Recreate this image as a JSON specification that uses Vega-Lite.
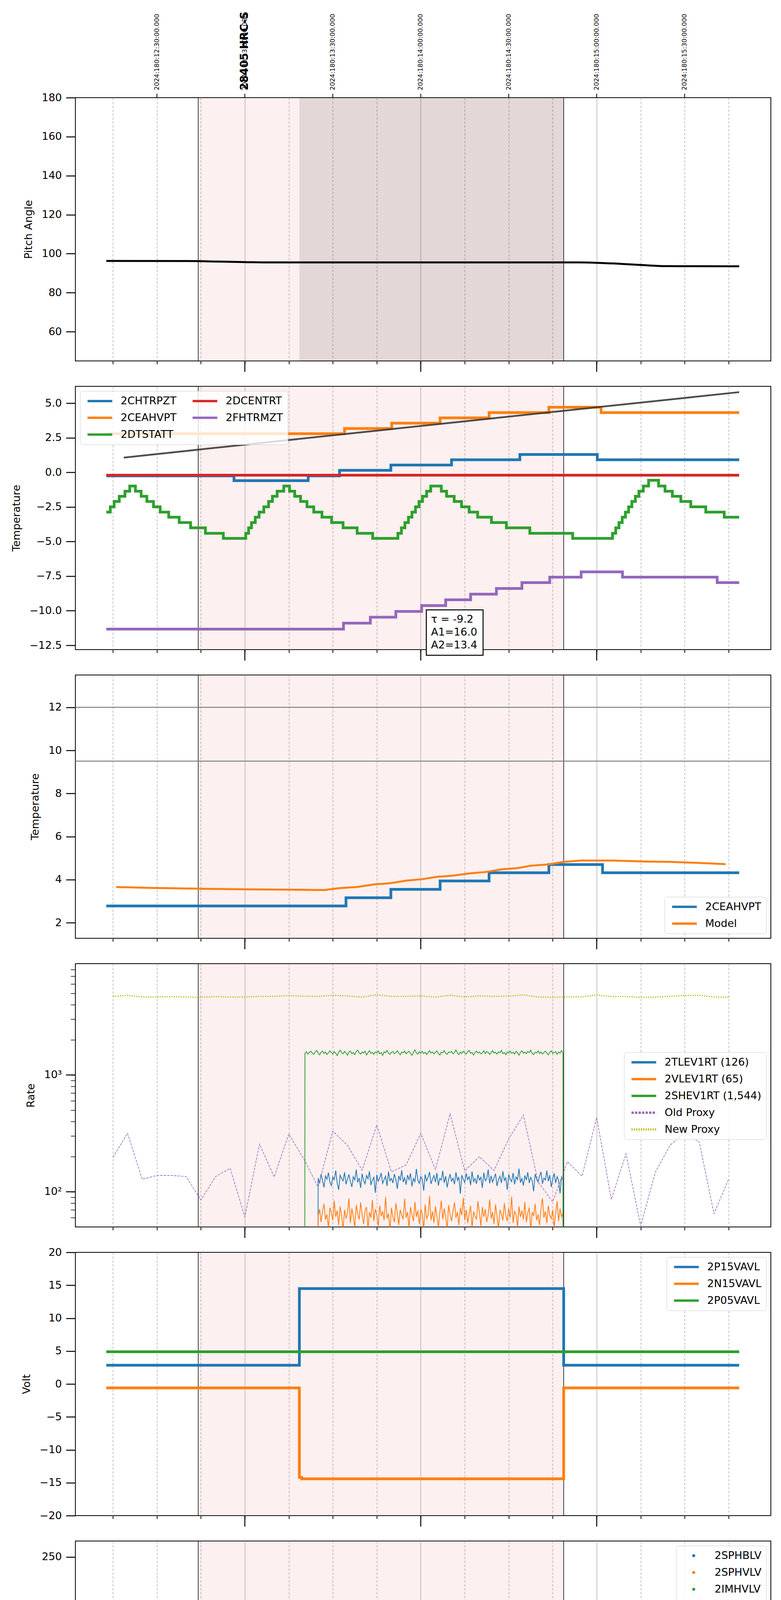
{
"$schema":"https://vega.github.io/schema/vega-lite/v6.json",
"padding":{"left":27,"top":28,"right":5,"bottom":5},
"background":"#ffffff",
"bounds":"flush",
"spacing":65,
"config":{
 "font":"DejaVu Sans",
 "view":{"stroke":"#000000","strokeWidth":2},
 "axis":{"labelColor":"#000000","titleColor":"#000000","tickColor":"#000000","labelFlush":false,"labelOverlap":false,"domain":false,"titleFontWeight":"normal"},
 "axisY":{"tickSize":24,"tickWidth":2.5,"labelPadding":11,"titlePadding":19,"labelFontSize":27,"titleFontSize":27,"grid":false},
 "legend":{"labelFontSize":27,"labelColor":"#000000","labelLimit":500,"fillColor":"rgba(255,255,255,0.8)","strokeColor":"#cccccc","cornerRadius":6,"padding":12,"rowPadding":15,"symbolType":"M-1,0H9","symbolSize":160,"symbolStrokeWidth":6,"labelOffset":65,"offset":12}
},
"datasets":{
 "obs":[{"t0":44.1,"t1":168.75}],
 "obsdark":[{"t0":78.6,"t1":168.75}],
 "edges":[{"t":44.1},{"t":168.75}],
 "hours":[{"t":60},{"t":120},{"t":180}],
 "toplabels":[{"t":30,"label":"2024:180:12:30:00.000"},{"t":60,"label":"2024:180:13:00:00.000"},{"t":90,"label":"2024:180:13:30:00.000"},{"t":120,"label":"2024:180:14:00:00.000"},{"t":150,"label":"2024:180:14:30:00.000"},{"t":180,"label":"2024:180:15:00:00.000"},{"t":210,"label":"2024:180:15:30:00.000"}],
 "obsid":[{"t":60,"label":"28405 HRC-S"}],
 "hourlabels":[{"t":60,"label":"09h"},{"t":120,"label":"10h"},{"t":180,"label":"11h"}],
 "xtitle":[{"t":120.8,"label":"2024-06-28 (180)"}],
 "logmajor":[{"v":100},{"v":1000}],
 "pitch":[{"t":12.75,"v":96.3},{"t":41.3,"v":96.25},{"t":50,"v":96.0},{"t":60,"v":95.7},{"t":68.5,"v":95.5},{"t":174,"v":95.5},{"t":185,"v":95.0},{"t":195,"v":94.2},{"t":204.5,"v":93.6},{"t":228.6,"v":93.5}],
 "p2":[
  {"s":"2CHTRPZT","t":12.75,"v":-0.25},{"s":"2CHTRPZT","t":56.3,"v":-0.6},{"s":"2CHTRPZT","t":81.6,"v":-0.25},{"s":"2CHTRPZT","t":92.3,"v":0.15},{"s":"2CHTRPZT","t":109.8,"v":0.53},{"s":"2CHTRPZT","t":130.5,"v":0.91},{"s":"2CHTRPZT","t":153.8,"v":1.29},{"s":"2CHTRPZT","t":180.2,"v":0.91},{"s":"2CHTRPZT","t":228.6,"v":0.91},
  {"s":"2CEAHVPT","t":12.75,"v":2.8},{"s":"2CEAHVPT","t":94.0,"v":3.17},{"s":"2CEAHVPT","t":110.1,"v":3.56},{"s":"2CEAHVPT","t":126.6,"v":3.94},{"s":"2CEAHVPT","t":143.3,"v":4.32},{"s":"2CEAHVPT","t":163.7,"v":4.71},{"s":"2CEAHVPT","t":181.5,"v":4.32},{"s":"2CEAHVPT","t":228.6,"v":4.32},
  {"s":"2DTSTATT","t":12.75,"v":-2.87},{"s":"2DTSTATT","t":14.11,"v":-2.49},{"s":"2DTSTATT","t":15.42,"v":-2.1},{"s":"2DTSTATT","t":17.17,"v":-1.73},{"s":"2DTSTATT","t":19.11,"v":-1.36},{"s":"2DTSTATT","t":20.74,"v":-0.99},{"s":"2DTSTATT","t":22.68,"v":-1.36},{"s":"2DTSTATT","t":24.63,"v":-1.73},{"s":"2DTSTATT","t":26.58,"v":-2.1},{"s":"2DTSTATT","t":28.85,"v":-2.49},{"s":"2DTSTATT","t":31.12,"v":-2.87},{"s":"2DTSTATT","t":34.04,"v":-3.24},{"s":"2DTSTATT","t":37.61,"v":-3.63},{"s":"2DTSTATT","t":41.5,"v":-4.01},{"s":"2DTSTATT","t":46.56,"v":-4.4},{"s":"2DTSTATT","t":52.66,"v":-4.77},{"s":"2DTSTATT","t":60.31,"v":-4.4},{"s":"2DTSTATT","t":61.29,"v":-4.01},{"s":"2DTSTATT","t":62.27,"v":-3.63},{"s":"2DTSTATT","t":63.56,"v":-3.24},{"s":"2DTSTATT","t":64.86,"v":-2.87},{"s":"2DTSTATT","t":66.48,"v":-2.49},{"s":"2DTSTATT","t":68.1,"v":-2.1},{"s":"2DTSTATT","t":69.4,"v":-1.73},{"s":"2DTSTATT","t":71.01,"v":-1.36},{"s":"2DTSTATT","t":73.29,"v":-0.99},{"s":"2DTSTATT","t":75.24,"v":-1.36},{"s":"2DTSTATT","t":77.0,"v":-1.73},{"s":"2DTSTATT","t":79.0,"v":-2.1},{"s":"2DTSTATT","t":81.2,"v":-2.49},{"s":"2DTSTATT","t":83.5,"v":-2.87},{"s":"2DTSTATT","t":86.3,"v":-3.24},{"s":"2DTSTATT","t":89.6,"v":-3.63},{"s":"2DTSTATT","t":93.5,"v":-4.01},{"s":"2DTSTATT","t":98.3,"v":-4.4},{"s":"2DTSTATT","t":103.6,"v":-4.77},{"s":"2DTSTATT","t":112.2,"v":-4.4},{"s":"2DTSTATT","t":113.4,"v":-4.01},{"s":"2DTSTATT","t":114.6,"v":-3.63},{"s":"2DTSTATT","t":115.8,"v":-3.24},{"s":"2DTSTATT","t":117.0,"v":-2.87},{"s":"2DTSTATT","t":118.2,"v":-2.49},{"s":"2DTSTATT","t":119.4,"v":-2.1},{"s":"2DTSTATT","t":120.6,"v":-1.73},{"s":"2DTSTATT","t":122.0,"v":-1.36},{"s":"2DTSTATT","t":123.4,"v":-0.99},{"s":"2DTSTATT","t":127.0,"v":-1.36},{"s":"2DTSTATT","t":128.8,"v":-1.73},{"s":"2DTSTATT","t":131.4,"v":-2.1},{"s":"2DTSTATT","t":133.9,"v":-2.49},{"s":"2DTSTATT","t":136.5,"v":-2.87},{"s":"2DTSTATT","t":139.4,"v":-3.24},{"s":"2DTSTATT","t":144.1,"v":-3.63},{"s":"2DTSTATT","t":149.2,"v":-4.01},{"s":"2DTSTATT","t":157.2,"v":-4.4},{"s":"2DTSTATT","t":171.8,"v":-4.77},{"s":"2DTSTATT","t":185.4,"v":-4.4},{"s":"2DTSTATT","t":186.5,"v":-4.01},{"s":"2DTSTATT","t":187.6,"v":-3.63},{"s":"2DTSTATT","t":188.7,"v":-3.24},{"s":"2DTSTATT","t":189.8,"v":-2.87},{"s":"2DTSTATT","t":190.9,"v":-2.49},{"s":"2DTSTATT","t":192.0,"v":-2.1},{"s":"2DTSTATT","t":193.2,"v":-1.73},{"s":"2DTSTATT","t":194.4,"v":-1.36},{"s":"2DTSTATT","t":195.9,"v":-0.99},{"s":"2DTSTATT","t":197.7,"v":-0.57},{"s":"2DTSTATT","t":201.1,"v":-0.99},{"s":"2DTSTATT","t":203.3,"v":-1.36},{"s":"2DTSTATT","t":205.8,"v":-1.73},{"s":"2DTSTATT","t":208.7,"v":-2.1},{"s":"2DTSTATT","t":212.1,"v":-2.49},{"s":"2DTSTATT","t":217.2,"v":-2.87},{"s":"2DTSTATT","t":223.5,"v":-3.24},{"s":"2DTSTATT","t":228.6,"v":-3.24},
  {"s":"2DCENTRT","t":12.75,"v":-0.2},{"s":"2DCENTRT","t":228.6,"v":-0.2},
  {"s":"2FHTRMZT","t":12.75,"v":-11.33},{"s":"2FHTRMZT","t":93.65,"v":-10.9},{"s":"2FHTRMZT","t":102.8,"v":-10.47},{"s":"2FHTRMZT","t":111.5,"v":-10.05},{"s":"2FHTRMZT","t":120.3,"v":-9.63},{"s":"2FHTRMZT","t":128.5,"v":-9.21},{"s":"2FHTRMZT","t":137.0,"v":-8.8},{"s":"2FHTRMZT","t":145.8,"v":-8.39},{"s":"2FHTRMZT","t":154.5,"v":-7.97},{"s":"2FHTRMZT","t":164.0,"v":-7.57},{"s":"2FHTRMZT","t":174.7,"v":-7.19},{"s":"2FHTRMZT","t":188.8,"v":-7.57},{"s":"2FHTRMZT","t":221.1,"v":-7.97},{"s":"2FHTRMZT","t":228.6,"v":-7.97}
 ],
 "p2fit":[{"t":18.7,"v":1.07},{"t":228.6,"v":5.8}],
 "annot":[{"t0":121.9,"t1":141.25,"v0":-9.94,"v1":-13.22,"tx":123.5,"vy":-10.87,"label":"τ = -9.2\nA1=16.0\nA2=13.4"}],
 "p3steps":[{"s":"2CEAHVPT","t":12.75,"v":2.78},{"s":"2CEAHVPT","t":94.5,"v":3.16},{"s":"2CEAHVPT","t":109.8,"v":3.55},{"s":"2CEAHVPT","t":126.6,"v":3.94},{"s":"2CEAHVPT","t":143.3,"v":4.32},{"s":"2CEAHVPT","t":163.7,"v":4.7},{"s":"2CEAHVPT","t":182.0,"v":4.32},{"s":"2CEAHVPT","t":228.6,"v":4.32}],
 "p3model":[{"s":"Model","t":16.1,"v":3.66},{"s":"Model","t":27.7,"v":3.62},{"s":"Model","t":44.7,"v":3.58},{"s":"Model","t":61.7,"v":3.55},{"s":"Model","t":87.2,"v":3.52},{"s":"Model","t":92.3,"v":3.61},{"s":"Model","t":98.2,"v":3.66},{"s":"Model","t":104.2,"v":3.78},{"s":"Model","t":109.3,"v":3.83},{"s":"Model","t":115.2,"v":3.96},{"s":"Model","t":120.3,"v":4.02},{"s":"Model","t":125.4,"v":4.13},{"s":"Model","t":130.5,"v":4.18},{"s":"Model","t":136.5,"v":4.29},{"s":"Model","t":142.4,"v":4.36},{"s":"Model","t":147.5,"v":4.48},{"s":"Model","t":152.6,"v":4.53},{"s":"Model","t":157.7,"v":4.65},{"s":"Model","t":163.7,"v":4.71},{"s":"Model","t":168.8,"v":4.83},{"s":"Model","t":174.7,"v":4.89},{"s":"Model","t":185.8,"v":4.89},{"s":"Model","t":197.7,"v":4.84},{"s":"Model","t":204.5,"v":4.83},{"s":"Model","t":214.7,"v":4.78},{"s":"Model","t":224.0,"v":4.72}],
 "hlines":[{"v":12},{"v":9.5}],
 "rates":[
  {"t":80.4,"sh":1},{"t":80.5,"sh":1532},{"t":81,"sh":1580},{"t":81.5,"sh":1510},{"t":82,"sh":1565},{"t":82.5,"sh":1598},{"t":83,"sh":1541},{"t":83.5,"sh":1502},{"t":84,"sh":1575},{"t":84.5,"sh":1620},{"t":84.9,"sh":1571,"tl":1,"vl":1},
  {"t":85,"sh":1534,"tl":131,"vl":62},{"t":85.5,"sh":1488,"tl":118,"vl":71},{"t":86,"sh":1559,"tl":142,"vl":55},{"t":86.5,"sh":1603,"tl":125,"vl":68},{"t":87,"sh":1527,"tl":109,"vl":79},{"t":87.5,"sh":1571,"tl":137,"vl":58},{"t":88,"sh":1496,"tl":128,"vl":64},{"t":88.5,"sh":1545,"tl":146,"vl":49},{"t":89,"sh":1612,"tl":121,"vl":73},{"t":89.5,"sh":1553,"tl":113,"vl":66},
  {"t":90,"sh":1509,"tl":134,"vl":57},{"t":90.5,"sh":1584,"tl":127,"vl":84},{"t":91,"sh":1537,"tl":152,"vl":61},{"t":91.5,"sh":1466,"tl":119,"vl":69},{"t":92,"sh":1561,"tl":104,"vl":52},{"t":92.5,"sh":1629,"tl":139,"vl":75},{"t":93,"sh":1548,"tl":130,"vl":63},{"t":93.5,"sh":1519,"tl":124,"vl":47},{"t":94,"sh":1593,"tl":147,"vl":70},{"t":94.5,"sh":1540,"tl":116,"vl":59},
  {"t":95,"sh":1477,"tl":128,"vl":66},{"t":95.5,"sh":1568,"tl":141,"vl":88},{"t":96,"sh":1604,"tl":122,"vl":54},{"t":96.5,"sh":1523,"tl":110,"vl":72},{"t":97,"sh":1556,"tl":135,"vl":61},{"t":97.5,"sh":1491,"tl":126,"vl":50},{"t":98,"sh":1587,"tl":155,"vl":77},{"t":98.5,"sh":1632,"tl":120,"vl":65},{"t":99,"sh":1545,"tl":131,"vl":58},{"t":99.5,"sh":1508,"tl":108,"vl":81},
  {"t":100,"sh":1571,"tl":143,"vl":63},{"t":100.5,"sh":1539,"tl":125,"vl":53},{"t":101,"sh":1598,"tl":117,"vl":69},{"t":101.5,"sh":1482,"tl":138,"vl":74},{"t":102,"sh":1553,"tl":129,"vl":48},{"t":102.5,"sh":1617,"tl":150,"vl":67},{"t":103,"sh":1529,"tl":114,"vl":60},{"t":103.5,"sh":1564,"tl":126,"vl":85},{"t":104,"sh":1501,"tl":133,"vl":56},{"t":104.5,"sh":1575,"tl":98,"vl":71},
  {"t":105,"sh":1543,"tl":140,"vl":64},{"t":105.5,"sh":1609,"tl":123,"vl":51},{"t":106,"sh":1516,"tl":131,"vl":76},{"t":106.5,"sh":1558,"tl":145,"vl":62},{"t":107,"sh":1472,"tl":118,"vl":68},{"t":107.5,"sh":1581,"tl":127,"vl":57},{"t":108,"sh":1547,"tl":136,"vl":90},{"t":108.5,"sh":1625,"tl":112,"vl":59},{"t":109,"sh":1533,"tl":149,"vl":65},{"t":109.5,"sh":1499,"tl":124,"vl":46},
  {"t":110,"sh":1566,"tl":130,"vl":73},{"t":110.5,"sh":1590,"tl":119,"vl":61},{"t":111,"sh":1521,"tl":142,"vl":55},{"t":111.5,"sh":1554,"tl":128,"vl":80},{"t":112,"sh":1612,"tl":106,"vl":66},{"t":112.5,"sh":1538,"tl":137,"vl":52},{"t":113,"sh":1486,"tl":125,"vl":70},{"t":113.5,"sh":1573,"tl":153,"vl":63},{"t":114,"sh":1549,"tl":121,"vl":58},{"t":114.5,"sh":1603,"tl":132,"vl":87},
  {"t":115,"sh":1517,"tl":115,"vl":60},{"t":115.5,"sh":1562,"tl":139,"vl":67},{"t":116,"sh":1596,"tl":127,"vl":49},{"t":116.5,"sh":1530,"tl":144,"vl":74},{"t":117,"sh":1475,"tl":111,"vl":64},{"t":117.5,"sh":1559,"tl":130,"vl":56},{"t":118,"sh":1641,"tl":122,"vl":82},{"t":118.5,"sh":1545,"tl":157,"vl":61},{"t":119,"sh":1508,"tl":126,"vl":69},{"t":119.5,"sh":1579,"tl":118,"vl":53},
  {"t":120,"sh":1536,"tl":135,"vl":71},{"t":120.5,"sh":1593,"tl":129,"vl":65},{"t":121,"sh":1524,"tl":102,"vl":47},{"t":121.5,"sh":1567,"tl":141,"vl":78},{"t":122,"sh":1498,"tl":124,"vl":59},{"t":122.5,"sh":1552,"tl":133,"vl":63},{"t":123,"sh":1615,"tl":148,"vl":92},{"t":123.5,"sh":1540,"tl":117,"vl":57},{"t":124,"sh":1577,"tl":128,"vl":68},{"t":124.5,"sh":1513,"tl":138,"vl":54},
  {"t":125,"sh":1561,"tl":121,"vl":75},{"t":125.5,"sh":1605,"tl":145,"vl":62},{"t":126,"sh":1529,"tl":113,"vl":50},{"t":126.5,"sh":1483,"tl":130,"vl":66},{"t":127,"sh":1568,"tl":126,"vl":84},{"t":127.5,"sh":1546,"tl":151,"vl":58},{"t":128,"sh":1620,"tl":119,"vl":72},{"t":128.5,"sh":1535,"tl":136,"vl":61},{"t":129,"sh":1502,"tl":109,"vl":48},{"t":129.5,"sh":1574,"tl":127,"vl":77},
  {"t":130,"sh":1556,"tl":142,"vl":64},{"t":130.5,"sh":1590,"tl":123,"vl":56},{"t":131,"sh":1518,"tl":131,"vl":69},{"t":131.5,"sh":1551,"tl":116,"vl":81},{"t":132,"sh":1637,"tl":147,"vl":60},{"t":132.5,"sh":1542,"tl":125,"vl":67},{"t":133,"sh":1493,"tl":134,"vl":52},{"t":133.5,"sh":1570,"tl":96,"vl":73},{"t":134,"sh":1527,"tl":139,"vl":63},{"t":134.5,"sh":1599,"tl":128,"vl":89},
  {"t":135,"sh":1548,"tl":120,"vl":57},{"t":135.5,"sh":1511,"tl":144,"vl":70},{"t":136,"sh":1583,"tl":127,"vl":54},{"t":136.5,"sh":1622,"tl":135,"vl":65},{"t":137,"sh":1534,"tl":114,"vl":76},{"t":137.5,"sh":1560,"tl":149,"vl":49},{"t":138,"sh":1480,"tl":122,"vl":68},{"t":138.5,"sh":1557,"tl":130,"vl":62},{"t":139,"sh":1601,"tl":117,"vl":58},{"t":139.5,"sh":1539,"tl":140,"vl":83},
  {"t":140,"sh":1572,"tl":126,"vl":66},{"t":140.5,"sh":1515,"tl":133,"vl":51},{"t":141,"sh":1546,"tl":108,"vl":74},{"t":141.5,"sh":1609,"tl":146,"vl":61},{"t":142,"sh":1523,"tl":124,"vl":71},{"t":142.5,"sh":1588,"tl":129,"vl":55},{"t":143,"sh":1563,"tl":155,"vl":64},{"t":143.5,"sh":1497,"tl":118,"vl":86},{"t":144,"sh":1550,"tl":137,"vl":59},{"t":144.5,"sh":1618,"tl":121,"vl":67},
  {"t":145,"sh":1537,"tl":131,"vl":53},{"t":145.5,"sh":1569,"tl":143,"vl":78},{"t":146,"sh":1506,"tl":112,"vl":62},{"t":146.5,"sh":1581,"tl":127,"vl":48},{"t":147,"sh":1545,"tl":136,"vl":70},{"t":147.5,"sh":1628,"tl":119,"vl":65},{"t":148,"sh":1520,"tl":150,"vl":57},{"t":148.5,"sh":1559,"tl":125,"vl":80},{"t":149,"sh":1490,"tl":132,"vl":63},{"t":149.5,"sh":1576,"tl":104,"vl":56},
  {"t":150,"sh":1541,"tl":141,"vl":72},{"t":150.5,"sh":1602,"tl":128,"vl":60},{"t":151,"sh":1532,"tl":122,"vl":91},{"t":151.5,"sh":1565,"tl":145,"vl":54},{"t":152,"sh":1509,"tl":116,"vl":68},{"t":152.5,"sh":1593,"tl":134,"vl":64},{"t":153,"sh":1547,"tl":127,"vl":50},{"t":153.5,"sh":1478,"tl":158,"vl":75},{"t":154,"sh":1561,"tl":120,"vl":61},{"t":154.5,"sh":1614,"tl":130,"vl":69},
  {"t":155,"sh":1536,"tl":113,"vl":58},{"t":155.5,"sh":1572,"tl":138,"vl":82},{"t":156,"sh":1519,"tl":126,"vl":55},{"t":156.5,"sh":1589,"tl":147,"vl":66},{"t":157,"sh":1554,"tl":119,"vl":73},{"t":157.5,"sh":1631,"tl":133,"vl":47},{"t":158,"sh":1527,"tl":124,"vl":67},{"t":158.5,"sh":1498,"tl":101,"vl":62},{"t":159,"sh":1566,"tl":142,"vl":79},{"t":159.5,"sh":1543,"tl":129,"vl":57},
  {"t":160,"sh":1607,"tl":121,"vl":64},{"t":160.5,"sh":1525,"tl":136,"vl":52},{"t":161,"sh":1575,"tl":148,"vl":71},{"t":161.5,"sh":1511,"tl":117,"vl":88},{"t":162,"sh":1558,"tl":131,"vl":60},{"t":162.5,"sh":1597,"tl":126,"vl":68},{"t":163,"sh":1540,"tl":152,"vl":54},{"t":163.5,"sh":1486,"tl":123,"vl":76},{"t":164,"sh":1563,"tl":139,"vl":63},{"t":164.5,"sh":1610,"tl":110,"vl":59},
  {"t":165,"sh":1529,"tl":128,"vl":70},{"t":165.5,"sh":1548,"tl":144,"vl":49},{"t":166,"sh":1585,"tl":119,"vl":65},{"t":166.5,"sh":1502,"tl":135,"vl":83},{"t":167,"sh":1571,"tl":125,"vl":56},{"t":167.5,"sh":1539,"tl":97,"vl":72},{"t":168,"sh":1620,"tl":133,"vl":61},{"t":168.5,"sh":1553,"tl":127,"vl":66},{"t":168.6,"sh":1,"tl":1,"vl":1}
 ],
 "proxy":[
  {"t":15,"old":197,"new":4704},{"t":20,"old":317,"new":4808},{"t":25,"old":128,"new":4653},{"t":30,"old":138,"new":4653},{"t":35,"old":138,"new":4688},{"t":40,"old":135,"new":4653},{"t":45,"old":85,"new":4619},{"t":50,"old":135,"new":4688},{"t":55,"old":159,"new":4653},{"t":60,"old":61,"new":4653},
  {"t":65,"old":256,"new":4704},{"t":70,"old":134,"new":4704},{"t":75,"old":313,"new":4790},{"t":80,"old":193,"new":4721},{"t":85,"old":110,"new":4704},{"t":90,"old":331,"new":4808},{"t":95,"old":250,"new":4756},{"t":100,"old":153,"new":4636},{"t":105,"old":373,"new":4862},{"t":110,"old":148,"new":4704},
  {"t":115,"old":170,"new":4704},{"t":120,"old":317,"new":4756},{"t":125,"old":155,"new":4636},{"t":130,"old":466,"new":4826},{"t":135,"old":151,"new":4653},{"t":140,"old":200,"new":4756},{"t":145,"old":152,"new":4704},{"t":150,"old":284,"new":4739},{"t":155,"old":454,"new":4844},{"t":160,"old":122,"new":4653},
  {"t":165,"old":82,"new":4619},{"t":170,"old":181,"new":4670},{"t":175,"old":136,"new":4653},{"t":180,"old":432,"new":4844},{"t":185,"old":86,"new":4688},{"t":190,"old":212,"new":4704},{"t":195,"old":51,"new":4619},{"t":200,"old":147,"new":4636},{"t":205,"old":250,"new":4721},{"t":210,"old":323,"new":4790},
  {"t":215,"old":266,"new":4808},{"t":220,"old":65,"new":4653},{"t":225,"old":128,"new":4636}
 ],
 "p5":[
  {"s":"2P15VAVL","t":12.75,"v":2.85},{"s":"2P15VAVL","t":78.6,"v":14.5},{"s":"2P15VAVL","t":168.75,"v":2.85},{"s":"2P15VAVL","t":228.6,"v":2.85},
  {"s":"2N15VAVL","t":12.75,"v":-0.6},{"s":"2N15VAVL","t":78.6,"v":-14.2},{"s":"2N15VAVL","t":79.4,"v":-14.4},{"s":"2N15VAVL","t":168.75,"v":-0.6},{"s":"2N15VAVL","t":228.6,"v":-0.6},
  {"s":"2P05VAVL","t":12.75,"v":4.9},{"s":"2P05VAVL","t":228.6,"v":4.9}
 ],
 "p6":[
  {"t":81.76,"2SPHBLV":117.7,"2SPHVLV":126.7},{"t":82.1,"2SPHBLV":102,"2SPHVLV":96.1},{"t":82.8,"2SPHBLV":97,"2SPHVLV":90.9},{"t":83.5,"2SPHBLV":92,"2SPHVLV":85.5},{"t":84.1,"2SPHBLV":86.8,"2SPHVLV":80.2},{"t":84.8,"2SPHBLV":82,"2SPHVLV":75},{"t":85.5,"2SPHBLV":77.4,"2SPHVLV":70.5},
  {"t":86,"2SPHBLV":77,"2SPHVLV":70.8},{"t":87,"2SPHBLV":77,"2SPHVLV":70.8},{"t":88,"2SPHBLV":77,"2SPHVLV":70.8},{"t":89,"2SPHBLV":77,"2SPHVLV":70.8},{"t":90,"2SPHBLV":77,"2SPHVLV":70.8},{"t":91,"2SPHBLV":77,"2SPHVLV":70.8},{"t":92,"2SPHBLV":77,"2SPHVLV":70.8},{"t":93,"2SPHBLV":77,"2SPHVLV":70.8},{"t":94,"2SPHBLV":77,"2SPHVLV":70.8},{"t":95,"2SPHBLV":77,"2SPHVLV":70.8},
  {"t":96,"2SPHBLV":77,"2SPHVLV":70.8},{"t":97,"2SPHBLV":77,"2SPHVLV":70.8},{"t":98,"2SPHBLV":77,"2SPHVLV":70.8},{"t":99,"2SPHBLV":77,"2SPHVLV":70.8},{"t":100,"2SPHBLV":77,"2SPHVLV":70.8},{"t":101,"2SPHBLV":77,"2SPHVLV":70.8},{"t":102,"2SPHBLV":77,"2SPHVLV":70.8},{"t":103,"2SPHBLV":77,"2SPHVLV":70.8},{"t":104,"2SPHBLV":77,"2SPHVLV":70.8},{"t":105,"2SPHBLV":77,"2SPHVLV":70.8},
  {"t":106,"2SPHBLV":77,"2SPHVLV":70.8},{"t":107,"2SPHBLV":77,"2SPHVLV":70.8},{"t":108,"2SPHBLV":77,"2SPHVLV":70.8},{"t":109,"2SPHBLV":77,"2SPHVLV":70.8},{"t":110,"2SPHBLV":77,"2SPHVLV":70.8},{"t":111,"2SPHBLV":77,"2SPHVLV":70.8},{"t":112,"2SPHBLV":77,"2SPHVLV":70.8},{"t":113,"2SPHBLV":77,"2SPHVLV":70.8},{"t":114,"2SPHBLV":77,"2SPHVLV":70.8},{"t":115,"2SPHBLV":77,"2SPHVLV":70.8},
  {"t":116,"2SPHBLV":77,"2SPHVLV":70.8},{"t":117,"2SPHBLV":77,"2SPHVLV":70.8},{"t":118,"2SPHBLV":77,"2SPHVLV":70.8},{"t":119,"2SPHBLV":77,"2SPHVLV":70.8},{"t":120,"2SPHBLV":77,"2SPHVLV":70.8},{"t":121,"2SPHBLV":77,"2SPHVLV":70.8},{"t":122,"2SPHBLV":77,"2SPHVLV":70.8},{"t":123,"2SPHBLV":77,"2SPHVLV":70.8},{"t":124,"2SPHBLV":77,"2SPHVLV":70.8},{"t":125,"2SPHBLV":77,"2SPHVLV":70.8},
  {"t":126,"2SPHBLV":77,"2SPHVLV":70.8},{"t":127,"2SPHBLV":77,"2SPHVLV":70.8},{"t":128,"2SPHBLV":77,"2SPHVLV":70.8},{"t":129,"2SPHBLV":77,"2SPHVLV":70.8},{"t":130,"2SPHBLV":77,"2SPHVLV":70.8},{"t":131,"2SPHBLV":77,"2SPHVLV":70.8},{"t":132,"2SPHBLV":77,"2SPHVLV":70.8},{"t":133,"2SPHBLV":77,"2SPHVLV":70.8},{"t":134,"2SPHBLV":77,"2SPHVLV":70.8},{"t":135,"2SPHBLV":77,"2SPHVLV":70.8},
  {"t":136,"2SPHBLV":77,"2SPHVLV":70.8},{"t":137,"2SPHBLV":77,"2SPHVLV":70.8},{"t":138,"2SPHBLV":77,"2SPHVLV":70.8},{"t":139,"2SPHBLV":77,"2SPHVLV":70.8},{"t":140,"2SPHBLV":77,"2SPHVLV":70.8},{"t":141,"2SPHBLV":77,"2SPHVLV":70.8},{"t":142,"2SPHBLV":77,"2SPHVLV":70.8},{"t":143,"2SPHBLV":77,"2SPHVLV":70.8},{"t":144,"2SPHBLV":77,"2SPHVLV":70.8},{"t":145,"2SPHBLV":77,"2SPHVLV":70.8},
  {"t":146,"2SPHBLV":77,"2SPHVLV":70.8},{"t":147,"2SPHBLV":77,"2SPHVLV":70.8},{"t":148,"2SPHBLV":77,"2SPHVLV":70.8},{"t":149,"2SPHBLV":77,"2SPHVLV":70.8},{"t":150,"2SPHBLV":77,"2SPHVLV":70.8},{"t":151,"2SPHBLV":77,"2SPHVLV":70.8},{"t":152,"2SPHBLV":77,"2SPHVLV":70.8},{"t":153,"2SPHBLV":77,"2SPHVLV":70.8},{"t":154,"2SPHBLV":77,"2SPHVLV":70.8},{"t":155,"2SPHBLV":77,"2SPHVLV":70.8},
  {"t":156,"2SPHBLV":77,"2SPHVLV":70.8},{"t":157,"2SPHBLV":77,"2SPHVLV":70.8},{"t":158,"2SPHBLV":77,"2SPHVLV":70.8},{"t":159,"2SPHBLV":77,"2SPHVLV":70.8},{"t":160,"2SPHBLV":77,"2SPHVLV":70.8},{"t":161,"2SPHBLV":77,"2SPHVLV":70.8},{"t":162,"2SPHBLV":77,"2SPHVLV":70.8},{"t":163,"2SPHBLV":77,"2SPHVLV":70.8},{"t":164,"2SPHBLV":77,"2SPHVLV":70.8},{"t":165,"2SPHBLV":77,"2SPHVLV":70.8},
  {"t":166,"2SPHBLV":77,"2SPHVLV":70.8},{"t":167,"2SPHBLV":77,"2SPHVLV":70.8},{"t":168,"2SPHBLV":77,"2SPHVLV":70.8},{"t":168.4,"2SPHBLV":77,"2SPHVLV":70.8}
 ],
 "p7":[
  {"s":"2SPINATM","t":79.4,"v":4.63},{"s":"2SPINATM","t":80.4,"v":4.12},{"s":"2SPINATM","t":82.9,"v":3.64},{"s":"2SPINATM","t":85.5,"v":3.14},{"s":"2SPINATM","t":89.2,"v":2.67},{"s":"2SPINATM","t":93.3,"v":2.18},{"s":"2SPINATM","t":98.4,"v":1.71},{"s":"2SPINATM","t":105.4,"v":1.26},{"s":"2SPINATM","t":111.0,"v":1.71},{"s":"2SPINATM","t":112.2,"v":2.18},{"s":"2SPINATM","t":113.2,"v":2.67},{"s":"2SPINATM","t":114.4,"v":3.14},{"s":"2SPINATM","t":115.6,"v":3.64},{"s":"2SPINATM","t":116.8,"v":4.12},{"s":"2SPINATM","t":118.0,"v":4.63},{"s":"2SPINATM","t":119.2,"v":5.12},{"s":"2SPINATM","t":120.3,"v":5.65},{"s":"2SPINATM","t":121.5,"v":6.2},{"s":"2SPINATM","t":123.7,"v":6.71},{"s":"2SPINATM","t":126.3,"v":6.2},{"s":"2SPINATM","t":128.0,"v":5.65},{"s":"2SPINATM","t":129.3,"v":5.12},{"s":"2SPINATM","t":131.4,"v":4.63},{"s":"2SPINATM","t":133.4,"v":4.12},{"s":"2SPINATM","t":136.1,"v":3.64},{"s":"2SPINATM","t":138.9,"v":3.14},{"s":"2SPINATM","t":142.8,"v":2.67},{"s":"2SPINATM","t":147.7,"v":2.18},{"s":"2SPINATM","t":154.5,"v":1.71},{"s":"2SPINATM","t":164.0,"v":1.26},{"s":"2SPINATM","t":168.4,"v":1.26},
  {"s":"2SPHVATM","t":78.6,"v":10.45},{"s":"2SPHVATM","t":78.8,"v":10.97},{"s":"2SPHVATM","t":88.9,"v":11.3},{"s":"2SPHVATM","t":93.65,"v":11.63},{"s":"2SPHVATM","t":98.1,"v":11.96},{"s":"2SPHVATM","t":102.5,"v":12.3},{"s":"2SPHVATM","t":106.9,"v":12.6},{"s":"2SPHVATM","t":112.0,"v":12.96},{"s":"2SPHVATM","t":117.3,"v":13.29},{"s":"2SPHVATM","t":123.2,"v":13.62},{"s":"2SPHVATM","t":130.2,"v":13.95},{"s":"2SPHVATM","t":137.3,"v":14.3},{"s":"2SPHVATM","t":145.0,"v":14.63},{"s":"2SPHVATM","t":155.0,"v":14.97},{"s":"2SPHVATM","t":165.0,"v":15.3},{"s":"2SPHVATM","t":168.4,"v":15.3},
  {"s":"2IMINATM","t":78.8,"v":-0.98},{"s":"2IMINATM","t":168.4,"v":-0.98},
  {"s":"2IMHVATM","t":78.5,"v":-30},{"s":"2IMHVATM","t":78.6,"v":10.31},{"s":"2IMHVATM","t":115.2,"v":10.65},{"s":"2IMHVATM","t":134.4,"v":10.98},{"s":"2IMHVATM","t":152.3,"v":11.3},{"s":"2IMHVATM","t":168.4,"v":60},{"s":"2IMHVATM","t":169.1,"v":-30},{"s":"2IMHVATM","t":169.2,"v":-30}
 ],
 "p8":[
  {"s":"2FHTRMZT","t":12.75,"v":-11.33},{"s":"2FHTRMZT","t":93.65,"v":-10.9},{"s":"2FHTRMZT","t":102.8,"v":-10.47},{"s":"2FHTRMZT","t":111.5,"v":-10.05},{"s":"2FHTRMZT","t":120.3,"v":-9.63},{"s":"2FHTRMZT","t":128.5,"v":-9.21},{"s":"2FHTRMZT","t":137.0,"v":-8.8},{"s":"2FHTRMZT","t":145.8,"v":-8.39},{"s":"2FHTRMZT","t":154.5,"v":-7.97},{"s":"2FHTRMZT","t":164.0,"v":-7.57},{"s":"2FHTRMZT","t":174.7,"v":-7.19},{"s":"2FHTRMZT","t":188.8,"v":-7.57},{"s":"2FHTRMZT","t":221.1,"v":-7.97},{"s":"2FHTRMZT","t":228.6,"v":-7.97},
  {"s":"2FRADPYT","t":12.75,"v":-14.0},{"s":"2FRADPYT","t":90.9,"v":-13.56},{"s":"2FRADPYT","t":99.4,"v":-13.11},{"s":"2FRADPYT","t":108.4,"v":-12.65},{"s":"2FRADPYT","t":117.4,"v":-12.21},{"s":"2FRADPYT","t":126.3,"v":-11.78},{"s":"2FRADPYT","t":135.6,"v":-11.34},{"s":"2FRADPYT","t":144.6,"v":-10.91},{"s":"2FRADPYT","t":153.9,"v":-10.49},{"s":"2FRADPYT","t":164.5,"v":-10.06},{"s":"2FRADPYT","t":196.8,"v":-10.49},{"s":"2FRADPYT","t":225.6,"v":-10.91},{"s":"2FRADPYT","t":228.6,"v":-10.91},
  {"s":"2FEPRATM","t":78.6,"v":-12.75},{"s":"2FEPRATM","t":78.8,"v":-11.58},{"s":"2FEPRATM","t":80.7,"v":-11.14},{"s":"2FEPRATM","t":83.3,"v":-10.7},{"s":"2FEPRATM","t":86.3,"v":-10.27},{"s":"2FEPRATM","t":89.4,"v":-9.83},{"s":"2FEPRATM","t":93.65,"v":-9.4},{"s":"2FEPRATM","t":98.8,"v":-8.97},{"s":"2FEPRATM","t":105.0,"v":-8.55},{"s":"2FEPRATM","t":111.5,"v":-8.13},{"s":"2FEPRATM","t":119.2,"v":-7.7},{"s":"2FEPRATM","t":126.8,"v":-7.27},{"s":"2FEPRATM","t":135.3,"v":-6.86},{"s":"2FEPRATM","t":143.8,"v":-6.46},{"s":"2FEPRATM","t":153.0,"v":-6.05},{"s":"2FEPRATM","t":162.0,"v":-5.62},{"s":"2FEPRATM","t":168.4,"v":-5.62},
  {"s":"2FE00ATM","t":78.5,"v":-30},{"s":"2FE00ATM","t":78.6,"v":-12.75},{"s":"2FE00ATM","t":88.9,"v":-12.35},{"s":"2FE00ATM","t":95.4,"v":-11.97},{"s":"2FE00ATM","t":96.6,"v":-13.18},{"s":"2FE00ATM","t":96.8,"v":-11.97},{"s":"2FE00ATM","t":101.8,"v":-11.57},{"s":"2FE00ATM","t":107.6,"v":-11.18},{"s":"2FE00ATM","t":113.7,"v":-10.8},{"s":"2FE00ATM","t":120.5,"v":-10.43},{"s":"2FE00ATM","t":122.8,"v":-10.82},{"s":"2FE00ATM","t":123.0,"v":-10.43},{"s":"2FE00ATM","t":127.3,"v":-10.06},{"s":"2FE00ATM","t":128.9,"v":-9.29},{"s":"2FE00ATM","t":129.1,"v":-10.06},{"s":"2FE00ATM","t":134.1,"v":-9.68},{"s":"2FE00ATM","t":140.1,"v":-10.45},{"s":"2FE00ATM","t":140.3,"v":-9.68},{"s":"2FE00ATM","t":140.9,"v":-9.31},{"s":"2FE00ATM","t":144.0,"v":-8.92},{"s":"2FE00ATM","t":144.2,"v":-9.31},{"s":"2FE00ATM","t":145.7,"v":-8.92},{"s":"2FE00ATM","t":145.9,"v":-9.31},{"s":"2FE00ATM","t":147.5,"v":-8.94},{"s":"2FE00ATM","t":149.6,"v":-9.35},{"s":"2FE00ATM","t":149.8,"v":-8.94},{"s":"2FE00ATM","t":155.2,"v":-8.57},{"s":"2FE00ATM","t":158.0,"v":-7.8},{"s":"2FE00ATM","t":158.2,"v":-8.57},{"s":"2FE00ATM","t":162.5,"v":-8.2},{"s":"2FE00ATM","t":168.4,"v":60},{"s":"2FE00ATM","t":169.1,"v":-30},{"s":"2FE00ATM","t":169.2,"v":-30}
 ]
},
"vconcat":[
 {
  "width":1781,"height":674,
  "layer":[
   {"data":{"name":"obs"},"mark":{"type":"rect","color":"#f08080","opacity":0.12},"encoding":{"x":{"field":"t0","type":"quantitative","title":null,"scale":{"domain":[2.2,239.4],"nice":false,"zero":false},"axis":{"orient":"bottom","values":[15,30,45,60,75,90,105,120,135,150,165,180,195,210,225],"grid":true,"gridColor":"#b0b0b0","gridWidth":1.5,"gridDash":{"condition":{"test":"datum.value % 60 === 0","value":[1,0]},"value":[6,4]},"ticks":true,"tickSize":8,"tickWidth":2,"labels":false,"title":null}},"x2":{"field":"t1"}}},
   {"data":{"name":"obsdark"},"mark":{"type":"rect","color":"#000000","opacity":0.1},"encoding":{"x":{"field":"t0","type":"quantitative","title":null},"x2":{"field":"t1"}}},
   {"data":{"name":"edges"},"mark":{"type":"rule","color":"#000000","strokeWidth":1.5},"encoding":{"x":{"field":"t","type":"quantitative","title":null}}},
   {"data":{"name":"hours"},"mark":{"type":"rule","color":"#000000","strokeWidth":2.5},"encoding":{"x":{"field":"t","type":"quantitative","title":null},"y":{"datum":45},"y2":{"datum":39.4}}},
   {"data":{"name":"toplabels"},"mark":{"type":"rule","color":"#000000","strokeWidth":2},"encoding":{"x":{"field":"t","type":"quantitative","title":null},"y":{"datum":180},"y2":{"datum":182}}},
   {"data":{"name":"toplabels"},"mark":{"type":"text","angle":270,"align":"left","baseline":"middle","fontSize":16.5,"color":"#000000"},"encoding":{"x":{"field":"t","type":"quantitative","title":null},"y":{"datum":183.8},"text":{"field":"label"}}},
   {"data":{"name":"obsid"},"mark":{"type":"text","angle":270,"align":"left","baseline":"middle","fontSize":27.5,"fontWeight":"bold","color":"#000000"},"encoding":{"x":{"field":"t","type":"quantitative","title":null},"y":{"datum":183.8},"text":{"field":"label"}}},
   {"data":{"name":"pitch"},"mark":{"type":"line","color":"#000000","strokeWidth":5,"interpolate":"monotone"},"encoding":{"x":{"field":"t","type":"quantitative","title":null},"y":{"field":"v","type":"quantitative","title":"Pitch Angle","scale":{"domain":[45,180],"nice":false,"zero":false},"axis":{"values":[60,80,100,120,140,160,180],"format":"d"}}}}
  ]
 },
 {
  "width":1781,"height":674,
  "layer":[
   {"data":{"name":"obs"},"mark":{"type":"rect","color":"#f08080","opacity":0.12},"encoding":{"x":{"field":"t0","type":"quantitative","title":null,"scale":{"domain":[2.2,239.4],"nice":false,"zero":false},"axis":{"orient":"bottom","values":[15,30,45,60,75,90,105,120,135,150,165,180,195,210,225],"grid":true,"gridColor":"#b0b0b0","gridWidth":1.5,"gridDash":{"condition":{"test":"datum.value % 60 === 0","value":[1,0]},"value":[6,4]},"ticks":true,"tickSize":8,"tickWidth":2,"labels":false,"title":null}},"x2":{"field":"t1"}}},
   {"data":{"name":"edges"},"mark":{"type":"rule","color":"#000000","strokeWidth":1.5},"encoding":{"x":{"field":"t","type":"quantitative","title":null}}},
   {"data":{"name":"hours"},"mark":{"type":"rule","color":"#000000","strokeWidth":2.5},"encoding":{"x":{"field":"t","type":"quantitative","title":null},"y":{"datum":-12.81},"y2":{"datum":-13.6}}},
   {"data":{"name":"p2"},"mark":{"type":"line","interpolate":"step-after","strokeWidth":7},"encoding":{"x":{"field":"t","type":"quantitative","title":null},"y":{"field":"v","type":"quantitative","title":"Temperature","scale":{"domain":[-12.81,6.22],"nice":false,"zero":false},"axis":{"values":[-12.5,-10,-7.5,-5,-2.5,0,2.5,5],"format":".1f"}},"color":{"field":"s","type":"nominal","scale":{"domain":["2CHTRPZT","2CEAHVPT","2DTSTATT","2DCENTRT","2FHTRMZT"],"range":["#1f77b4","#ff7f0e","#2ca02c","#d62728","#9467bd"]},"legend":{"title":null,"orient":"top-left","columns":2,"columnPadding":28}}}},
   {"data":{"name":"p2fit"},"mark":{"type":"line","color":"#3a3a3a","strokeWidth":4.5,"opacity":0.9},"encoding":{"x":{"field":"t","type":"quantitative","title":null},"y":{"field":"v","type":"quantitative","title":"Temperature"}}},
   {"data":{"name":"annot"},"mark":{"type":"rect","fill":"#ffffff","stroke":"#000000","strokeWidth":2.5},"encoding":{"x":{"field":"t0","type":"quantitative","title":null},"x2":{"field":"t1"},"y":{"field":"v0","type":"quantitative","title":"Temperature"},"y2":{"field":"v1"}}},
   {"data":{"name":"annot"},"mark":{"type":"text","align":"left","baseline":"alphabetic","fontSize":27,"lineHeight":33,"lineBreak":"\n","color":"#000000"},"encoding":{"x":{"field":"tx","type":"quantitative","title":null},"y":{"field":"vy","type":"quantitative","title":"Temperature"},"text":{"field":"label"}}}
  ]
 },
 {
  "width":1781,"height":674,
  "layer":[
   {"data":{"name":"obs"},"mark":{"type":"rect","color":"#f08080","opacity":0.12},"encoding":{"x":{"field":"t0","type":"quantitative","title":null,"scale":{"domain":[2.2,239.4],"nice":false,"zero":false},"axis":{"orient":"bottom","values":[15,30,45,60,75,90,105,120,135,150,165,180,195,210,225],"grid":true,"gridColor":"#b0b0b0","gridWidth":1.5,"gridDash":{"condition":{"test":"datum.value % 60 === 0","value":[1,0]},"value":[6,4]},"ticks":true,"tickSize":8,"tickWidth":2,"labels":false,"title":null}},"x2":{"field":"t1"}}},
   {"data":{"name":"edges"},"mark":{"type":"rule","color":"#000000","strokeWidth":1.5},"encoding":{"x":{"field":"t","type":"quantitative","title":null}}},
   {"data":{"name":"hours"},"mark":{"type":"rule","color":"#000000","strokeWidth":2.5},"encoding":{"x":{"field":"t","type":"quantitative","title":null},"y":{"datum":1.28},"y2":{"datum":0.772}}},
   {"data":{"name":"hlines"},"mark":{"type":"rule","color":"#808080","strokeWidth":2.5},"encoding":{"y":{"field":"v","type":"quantitative","title":"Temperature","scale":{"domain":[1.28,13.5],"nice":false,"zero":false},"axis":{"values":[2,4,6,8,10,12],"format":"d"}}}},
   {"data":{"name":"p3steps"},"mark":{"type":"line","interpolate":"step-after","strokeWidth":7},"encoding":{"x":{"field":"t","type":"quantitative","title":null},"y":{"field":"v","type":"quantitative","title":"Temperature"},"color":{"field":"s","type":"nominal","scale":{"domain":["2CEAHVPT","Model"],"range":["#1f77b4","#ff7f0e"]},"legend":{"title":null,"orient":"bottom-right"}}}},
   {"data":{"name":"p3model"},"mark":{"type":"line","strokeWidth":5},"encoding":{"x":{"field":"t","type":"quantitative","title":null},"y":{"field":"v","type":"quantitative","title":"Temperature"},"color":{"field":"s","type":"nominal"}}}
  ]
 },
 {
  "width":1781,"height":674,
  "layer":[
   {"data":{"name":"obs"},"mark":{"type":"rect","color":"#f08080","opacity":0.12},"encoding":{"x":{"field":"t0","type":"quantitative","title":null,"scale":{"domain":[2.2,239.4],"nice":false,"zero":false},"axis":{"orient":"bottom","values":[15,30,45,60,75,90,105,120,135,150,165,180,195,210,225],"grid":true,"gridColor":"#b0b0b0","gridWidth":1.5,"gridDash":{"condition":{"test":"datum.value % 60 === 0","value":[1,0]},"value":[6,4]},"ticks":true,"tickSize":8,"tickWidth":2,"labels":false,"title":null}},"x2":{"field":"t1"}}},
   {"data":{"name":"edges"},"mark":{"type":"rule","color":"#000000","strokeWidth":1.5},"encoding":{"x":{"field":"t","type":"quantitative","title":null}}},
   {"data":{"name":"hours"},"mark":{"type":"rule","color":"#000000","strokeWidth":2.5},"encoding":{"x":{"field":"t","type":"quantitative","title":null},"y":{"datum":50},"y2":{"datum":40.3}}},
   {"data":{"name":"logmajor"},"mark":{"type":"rule","color":"#000000","strokeWidth":2.5},"encoding":{"x":{"datum":2.2},"x2":{"datum":-1.0},"y":{"field":"v","type":"quantitative","title":"Rate"}}},
   {"data":{"name":"rates"},"transform":[{"fold":["tl","vl","sh"],"as":["s","v"]}],"mark":{"type":"line","strokeWidth":2,"clip":true},"encoding":{"x":{"field":"t","type":"quantitative","title":null},"y":{"field":"v","type":"quantitative","title":"Rate","scale":{"type":"log","domain":[50,8970],"nice":false},"axis":{"values":[60,70,80,90,100,200,300,400,500,600,700,800,900,1000,2000,3000,4000,5000,6000,7000,8000],"labelExpr":"datum.value === 100 ? '10²' : datum.value === 1000 ? '10³' : ''","tickSize":12,"tickWidth":1.5,"labelPadding":23}},"color":{"field":"s","type":"nominal","scale":{"domain":["tl","vl","sh","old","new"],"range":["#1f77b4","#ff7f0e","#2ca02c","#9467bd","#bcbd22"]},"legend":{"title":null,"orient":"none","legendX":1405,"legendY":227,"labelExpr":"datum.label === 'tl' ? '2TLEV1RT (126)' : datum.label === 'vl' ? '2VLEV1RT (65)' : datum.label === 'sh' ? '2SHEV1RT (1,544)' : datum.label === 'old' ? 'Old Proxy' : 'New Proxy'"}},"strokeDash":{"field":"s","type":"nominal","scale":{"domain":["tl","vl","sh","old","new"],"range":[[1,0],[1,0],[1,0],[6,3],[3,3]]},"legend":{"title":null,"orient":"none","legendX":1405,"legendY":227,"labelExpr":"datum.label === 'tl' ? '2TLEV1RT (126)' : datum.label === 'vl' ? '2VLEV1RT (65)' : datum.label === 'sh' ? '2SHEV1RT (1,544)' : datum.label === 'old' ? 'Old Proxy' : 'New Proxy'"}}}},
   {"data":{"name":"proxy"},"transform":[{"fold":["old"],"as":["s","v"]}],"mark":{"type":"line","strokeWidth":1.6},"encoding":{"x":{"field":"t","type":"quantitative","title":null},"y":{"field":"v","type":"quantitative","title":"Rate"},"color":{"field":"s","type":"nominal"},"strokeDash":{"field":"s","type":"nominal"}}},
   {"data":{"name":"proxy"},"transform":[{"fold":["new"],"as":["s","v"]}],"mark":{"type":"line","strokeWidth":3},"encoding":{"x":{"field":"t","type":"quantitative","title":null},"y":{"field":"v","type":"quantitative","title":"Rate"},"color":{"field":"s","type":"nominal"},"strokeDash":{"field":"s","type":"nominal"}}}
  ]
 },
 {
  "width":1781,"height":674,
  "layer":[
   {"data":{"name":"obs"},"mark":{"type":"rect","color":"#f08080","opacity":0.12},"encoding":{"x":{"field":"t0","type":"quantitative","title":null,"scale":{"domain":[2.2,239.4],"nice":false,"zero":false},"axis":{"orient":"bottom","values":[15,30,45,60,75,90,105,120,135,150,165,180,195,210,225],"grid":true,"gridColor":"#b0b0b0","gridWidth":1.5,"gridDash":{"condition":{"test":"datum.value % 60 === 0","value":[1,0]},"value":[6,4]},"ticks":true,"tickSize":8,"tickWidth":2,"labels":false,"title":null}},"x2":{"field":"t1"}}},
   {"data":{"name":"edges"},"mark":{"type":"rule","color":"#000000","strokeWidth":1.5},"encoding":{"x":{"field":"t","type":"quantitative","title":null}}},
   {"data":{"name":"hours"},"mark":{"type":"rule","color":"#000000","strokeWidth":2.5},"encoding":{"x":{"field":"t","type":"quantitative","title":null},"y":{"datum":-20},"y2":{"datum":-21.66}}},
   {"data":{"name":"p5"},"mark":{"type":"line","interpolate":"step-after","strokeWidth":7},"encoding":{"x":{"field":"t","type":"quantitative","title":null},"y":{"field":"v","type":"quantitative","title":"Volt","scale":{"domain":[-20,20],"nice":false,"zero":false},"axis":{"values":[-20,-15,-10,-5,0,5,10,15,20],"format":"d"}},"color":{"field":"s","type":"nominal","scale":{"domain":["2P15VAVL","2N15VAVL","2P05VAVL"],"range":["#1f77b4","#ff7f0e","#2ca02c"]},"legend":{"title":null,"orient":"top-right"}}}}
  ]
 },
 {
  "width":1781,"height":674,
  "layer":[
   {"data":{"name":"obs"},"mark":{"type":"rect","color":"#f08080","opacity":0.12},"encoding":{"x":{"field":"t0","type":"quantitative","title":null,"scale":{"domain":[2.2,239.4],"nice":false,"zero":false},"axis":{"orient":"bottom","values":[15,30,45,60,75,90,105,120,135,150,165,180,195,210,225],"grid":true,"gridColor":"#b0b0b0","gridWidth":1.5,"gridDash":{"condition":{"test":"datum.value % 60 === 0","value":[1,0]},"value":[6,4]},"ticks":true,"tickSize":8,"tickWidth":2,"labels":false,"title":null}},"x2":{"field":"t1"}}},
   {"data":{"name":"edges"},"mark":{"type":"rule","color":"#000000","strokeWidth":1.5},"encoding":{"x":{"field":"t","type":"quantitative","title":null}}},
   {"data":{"name":"hours"},"mark":{"type":"rule","color":"#000000","strokeWidth":2.5},"encoding":{"x":{"field":"t","type":"quantitative","title":null},"y":{"datum":0},"y2":{"datum":-11.06}}},
   {"data":{"name":"p6"},"transform":[{"fold":["2SPHBLV","2SPHVLV"],"as":["s","v"]}],"mark":{"type":"point","filled":true,"size":150,"opacity":1},"encoding":{"x":{"field":"t","type":"quantitative","title":null},"y":{"field":"v","type":"quantitative","title":"HV Monitor","scale":{"domain":[0,266],"nice":false,"zero":false},"axis":{"values":[0,50,100,150,200,250],"format":"d"}},"color":{"field":"s","type":"nominal","scale":{"domain":["2SPHBLV","2SPHVLV","2IMHVLV","2IMHBLV"],"range":["#1f77b4","#ff7f0e","#2ca02c","#d62728"]},"legend":{"title":null,"orient":"top-right","symbolType":"circle","symbolSize":60,"symbolStrokeWidth":0,"labelOffset":40,"symbolOffset":20}}}}
  ]
 },
 {
  "width":1781,"height":674,
  "layer":[
   {"data":{"name":"obs"},"mark":{"type":"rect","color":"#f08080","opacity":0.12},"encoding":{"x":{"field":"t0","type":"quantitative","title":null,"scale":{"domain":[2.2,239.4],"nice":false,"zero":false},"axis":{"orient":"bottom","values":[15,30,45,60,75,90,105,120,135,150,165,180,195,210,225],"grid":true,"gridColor":"#b0b0b0","gridWidth":1.5,"gridDash":{"condition":{"test":"datum.value % 60 === 0","value":[1,0]},"value":[6,4]},"ticks":true,"tickSize":8,"tickWidth":2,"labels":false,"title":null}},"x2":{"field":"t1"}}},
   {"data":{"name":"edges"},"mark":{"type":"rule","color":"#000000","strokeWidth":1.5},"encoding":{"x":{"field":"t","type":"quantitative","title":null}}},
   {"data":{"name":"hours"},"mark":{"type":"rule","color":"#000000","strokeWidth":2.5},"encoding":{"x":{"field":"t","type":"quantitative","title":null},"y":{"datum":-2.37},"y2":{"datum":-3.144}}},
   {"data":{"name":"p7"},"mark":{"type":"line","interpolate":"step-after","strokeWidth":7,"clip":true},"encoding":{"x":{"field":"t","type":"quantitative","title":null},"y":{"field":"v","type":"quantitative","title":"Detector Temp","scale":{"domain":[-2.37,16.14],"nice":false,"zero":false},"axis":{"values":[0,2.5,5,7.5,10,12.5,15],"format":".1f"}},"color":{"field":"s","type":"nominal","scale":{"domain":["2SPINATM","2SPHVATM","2IMINATM","2IMHVATM"],"range":["#1f77b4","#ff7f0e","#2ca02c","#d62728"]},"legend":{"title":null,"orient":"top-right"}}}}
  ]
 },
 {
  "width":1781,"height":674,
  "layer":[
   {"data":{"name":"obs"},"mark":{"type":"rect","color":"#f08080","opacity":0.12},"encoding":{"x":{"field":"t0","type":"quantitative","title":null,"scale":{"domain":[2.2,239.4],"nice":false,"zero":false},"axis":{"orient":"bottom","values":[15,30,45,60,75,90,105,120,135,150,165,180,195,210,225],"grid":true,"gridColor":"#b0b0b0","gridWidth":1.5,"gridDash":{"condition":{"test":"datum.value % 60 === 0","value":[1,0]},"value":[6,4]},"ticks":true,"tickSize":8,"tickWidth":2,"labels":true,"labelExpr":"datum.value % 60 === 0 ? '' : format(datum.value % 60, 'd')","labelFontSize":18,"labelPadding":4,"title":null}},"x2":{"field":"t1"}}},
   {"data":{"name":"edges"},"mark":{"type":"rule","color":"#000000","strokeWidth":1.5},"encoding":{"x":{"field":"t","type":"quantitative","title":null}}},
   {"data":{"name":"hours"},"mark":{"type":"rule","color":"#000000","strokeWidth":2.5},"encoding":{"x":{"field":"t","type":"quantitative","title":null},"y":{"datum":-14.6},"y2":{"datum":-15.0}}},
   {"data":{"name":"hourlabels"},"mark":{"type":"text","align":"center","baseline":"top","fontSize":27,"color":"#000000"},"encoding":{"x":{"field":"t","type":"quantitative","title":null},"y":{"datum":-15.115},"text":{"field":"label"}}},
   {"data":{"name":"xtitle"},"mark":{"type":"text","align":"center","baseline":"top","fontSize":27,"color":"#000000"},"encoding":{"x":{"field":"t","type":"quantitative","title":null},"y":{"datum":-15.7},"text":{"field":"label"}}},
   {"data":{"name":"p8"},"mark":{"type":"line","interpolate":"step-after","strokeWidth":7,"clip":true},"encoding":{"x":{"field":"t","type":"quantitative","title":null},"y":{"field":"v","type":"quantitative","title":"FEA Temp","scale":{"domain":[-14.6,-4.97],"nice":false,"zero":false},"axis":{"values":[-14,-12,-10,-8,-6],"format":"d"}},"color":{"field":"s","type":"nominal","scale":{"domain":["2FHTRMZT","2FRADPYT","2FEPRATM","2FE00ATM"],"range":["#1f77b4","#ff7f0e","#2ca02c","#d62728"]},"legend":{"title":null,"orient":"top-left"}}}}
  ]
 }
],
"resolve":{"scale":{"x":"independent","y":"independent","color":"independent","strokeDash":"independent"},"legend":{"color":"independent","strokeDash":"independent"}}
}
